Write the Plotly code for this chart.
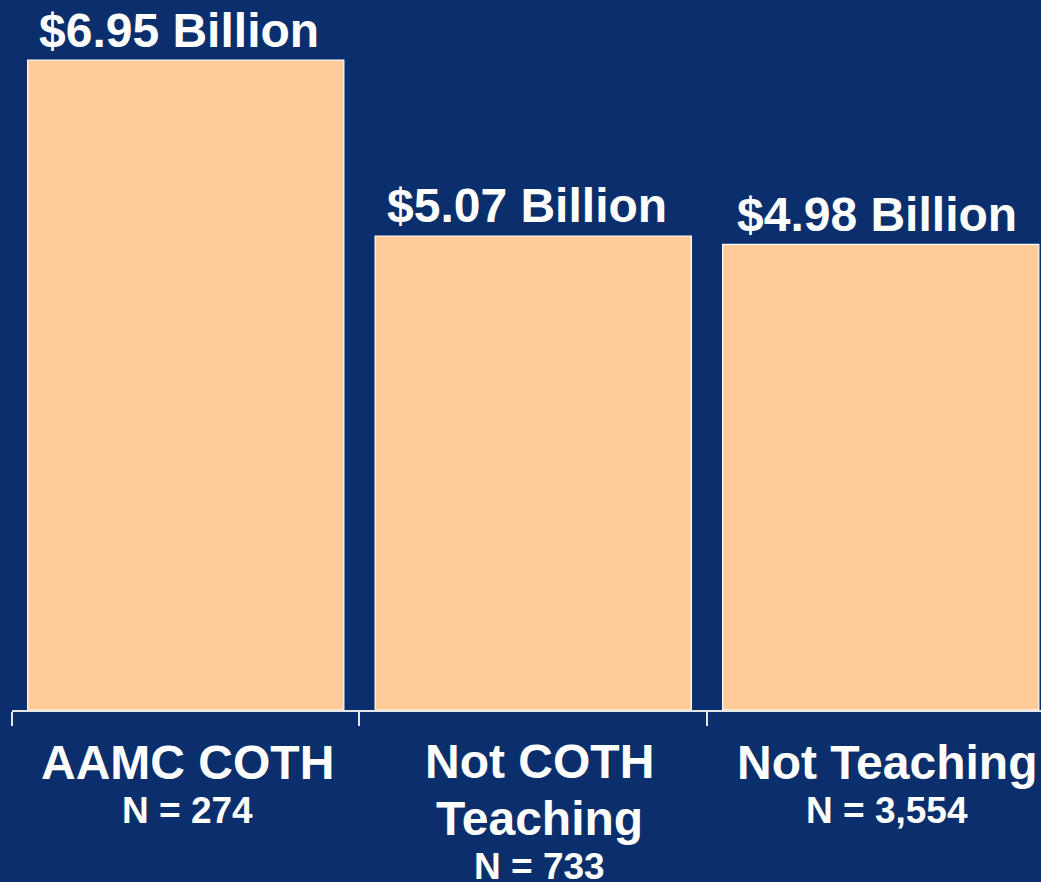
import plotly.graph_objects as go

categories = ["AAMC COTH", "Not COTH Teaching", "Not Teaching"]
cat_line1 = ["AAMC COTH", "Not COTH", "Not Teaching"]
cat_line2 = ["", "Teaching", ""]
n_labels = ["N = 274", "N = 733", "N = 3,554"]
values = [6.95, 5.07, 4.98]
value_labels = ["$6.95 Billion", "$5.07 Billion", "$4.98 Billion"]

BG = "#0b2f6c"
BAR = "#ffcc99"
FONT = "Liberation Sans, Arial, sans-serif"

val_xshift = [-7, -6, -4]
cat_xshift = [2, 6, 6]

fig = go.Figure()
fig.add_trace(go.Bar(
    x=categories, y=values, width=0.91,
    marker=dict(color=BAR, line=dict(color="white", width=1.2)),
    hoverinfo="skip",
))

annotations = []
for i, (c, v, t) in enumerate(zip(categories, values, value_labels)):
    annotations.append(dict(
        x=c, y=v, xref="x", yref="y", text=f"<b>{t}</b>", showarrow=False,
        yanchor="middle", yshift=30, xshift=val_xshift[i],
        font=dict(family=FONT, size=48, color="white"),
    ))

for i, (c, l1, l2, n) in enumerate(zip(categories, cat_line1, cat_line2, n_labels)):
    xs = cat_xshift[i]
    annotations.append(dict(
        x=c, y=0, xref="x", yref="y", text=f"<b>{l1}</b>", showarrow=False,
        yanchor="middle", yshift=-51 if l2 else -52, xshift=xs,
        font=dict(family=FONT, size=48, color="white"),
    ))
    if l2:
        annotations.append(dict(
            x=c, y=0, xref="x", yref="y", text=f"<b>{l2}</b>", showarrow=False,
            yanchor="middle", yshift=-108, xshift=xs,
            font=dict(family=FONT, size=48, color="white"),
        ))
    annotations.append(dict(
        x=c, y=0, xref="x", yref="y", text=f"<b>{n}</b>", showarrow=False,
        yanchor="middle", yshift=-156 if l2 else -100, xshift=xs,
        font=dict(family=FONT, size=37, color="white"),
    ))

fig.update_layout(
    width=1041, height=882,
    margin=dict(l=12, r=0, t=0, b=172),
    paper_bgcolor=BG, plot_bgcolor=BG,
    showlegend=False,
    bargap=0.09,
    annotations=annotations,
    xaxis=dict(
        type="category", range=[-0.5, 2.4612],
        showline=True, linecolor="#e6e6e6", linewidth=1.5,
        ticks="outside", tickson="boundaries", ticklen=14, tickcolor="#e6e6e6", tickwidth=1.5,
        showticklabels=False, showgrid=False, zeroline=False,
    ),
    yaxis=dict(range=[0, 7.594], visible=False, showgrid=False, zeroline=False),
)

fig.write_html(
    "out.html",
    config={"displayModeBar": False},
    post_script="document.body.style.margin='0';document.body.style.background='%s';" % BG,
)
